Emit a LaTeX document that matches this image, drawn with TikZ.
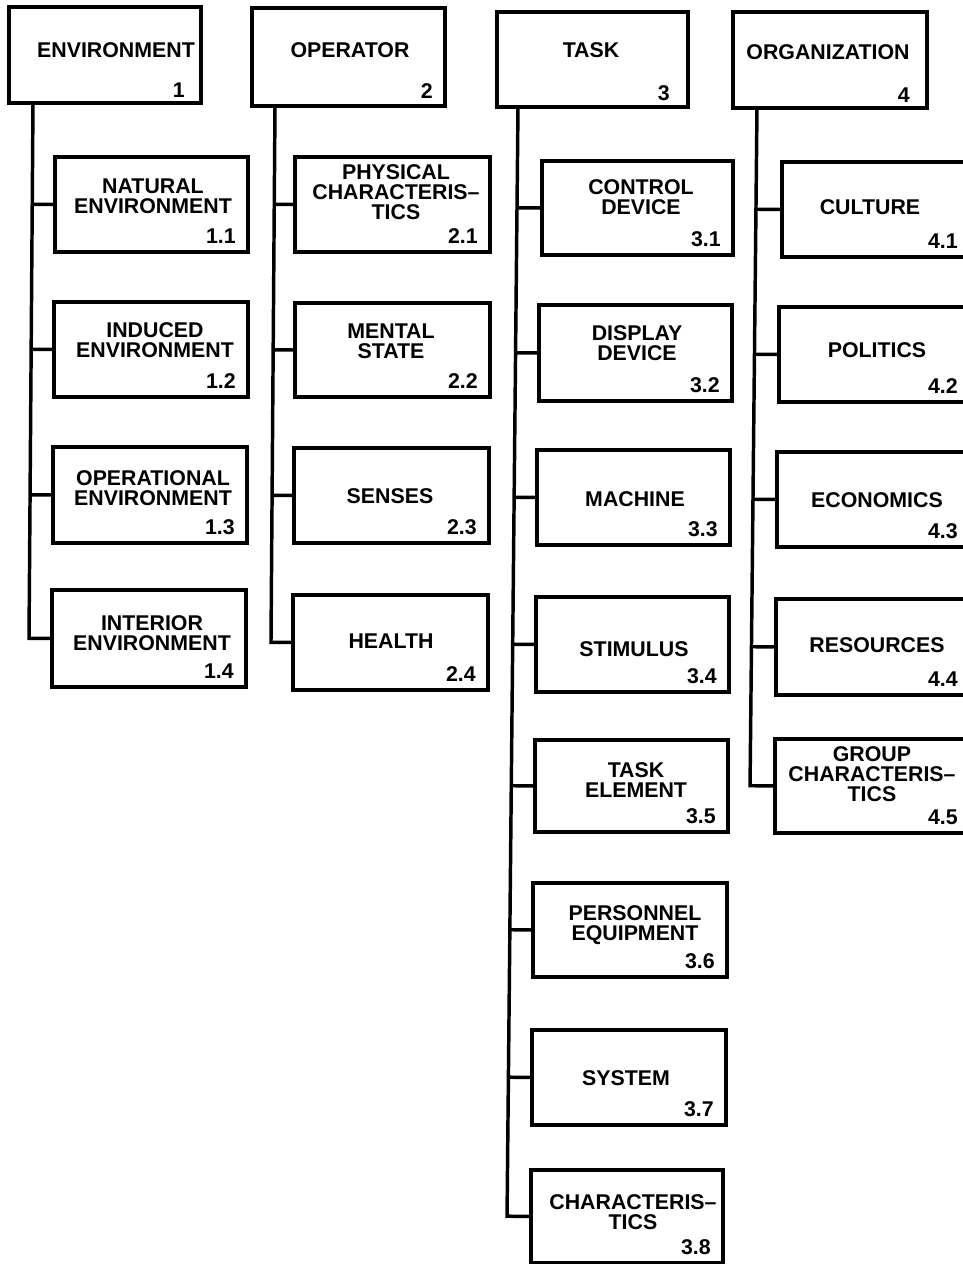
\documentclass[tikz,border=0pt]{standalone}
\usepackage{fontspec}
\setmainfont{Liberation Sans}
\usetikzlibrary{fit,calc}

\tikzset{
  frame/.style={draw, line width=2.6pt, inner sep=0pt, outer sep=0pt},
  caption/.style={font=\fontsize{16}{15}\selectfont\bfseries, align=center, inner sep=0pt},
  numtag/.style={font=\fontsize{16}{15}\selectfont\bfseries, anchor=base east, inner sep=0pt},
  link/.style={line width=2.6pt},
}

% #1 name, #2-#5 corners (x1,y1,x2,y2), #6-#7 caption centre, #8 caption, #9 number
\newcommand\unitbox[9]{%
  \node[frame, fit={(#2,#3) (#4,#5)}] (#1) {};
  \node[caption] (#1-t) at (#6,#7) {#8};
  \node[numtag] (#1-n) at ($(#4,#5)+(-12,-9)$) {#9};
}

\begin{document}
\begin{tikzpicture}[x=0.75pt, y=-0.75pt]
\useasboundingbox (0,0) rectangle (963,1264);
\clip (0,0) rectangle (963,1264);

% ---- top-level categories
\node[frame, fit={(9,7) (201,103)}] (env) {};
\node[caption] (env-t) at (116,50) {ENVIRONMENT};
\node[numtag] (env-n) at (185,97) {1};

\node[frame, fit={(252,8) (445,106)}] (opr) {};
\node[caption] (opr-t) at (350,50) {OPERATOR};
\node[numtag] (opr-n) at (433,98) {2};

\node[frame, fit={(497,12) (688,107)}] (tsk) {};
\node[caption] (tsk-t) at (591,50) {TASK};
\node[numtag] (tsk-n) at (670,100) {3};

\node[frame, fit={(733,12) (927,108)}] (org) {};
\node[caption] (org-t) at (828,52) {ORGANIZATION};
\node[numtag] (org-n) at (910,102) {4};

% ---- environment
\unitbox{e1}{55}{157}{248}{252}{153}{196}{NATURAL\\ENVIRONMENT}{1.1}
\unitbox{e2}{54}{302}{248}{397}{155}{340}{INDUCED\\ENVIRONMENT}{1.2}
\unitbox{e3}{53}{447}{247}{543}{153}{488}{OPERATIONAL\\ENVIRONMENT}{1.3}
\unitbox{e4}{52}{590}{246}{687}{152}{633}{INTERIOR\\ENVIRONMENT}{1.4}

% ---- operator
\unitbox{o1}{295}{157}{490}{252}{396}{192}{PHYSICAL\\CHARACTERIS–\\TICS}{2.1}
\unitbox{o2}{295}{303}{490}{397}{391}{341}{MENTAL\\STATE}{2.2}
\unitbox{o3}{294}{448}{489}{543}{390}{496}{SENSES}{2.3}
\unitbox{o4}{293}{595}{488}{690}{391}{641}{HEALTH}{2.4}

% ---- task
\unitbox{t1}{542}{161}{733}{255}{641}{197}{CONTROL\\DEVICE}{3.1}
\unitbox{t2}{539}{305}{732}{401}{637}{343}{DISPLAY\\DEVICE}{3.2}
\unitbox{t3}{537}{450}{730}{545}{635}{499}{MACHINE}{3.3}
\unitbox{t4}{536}{597}{729}{692}{634}{649}{STIMULUS}{3.4}
\unitbox{t5}{535}{740}{728}{832}{636}{780}{TASK\\ELEMENT}{3.5}
\unitbox{t6}{533}{883}{727}{977}{635}{925}{PERSONNEL\\EQUIPMENT}{3.6}
\unitbox{t7}{532}{1030}{726}{1125}{626}{1078}{SYSTEM}{3.7}
\unitbox{t8}{531}{1170}{723}{1263}{633}{1212}{CHARACTERIS–\\TICS}{3.8}

% ---- organization
\unitbox{g1}{782}{162}{970}{257}{870}{207}{CULTURE}{4.1}
\unitbox{g2}{779}{307}{970}{402}{877}{350}{POLITICS}{4.2}
\unitbox{g3}{777}{452}{970}{547}{877}{500}{ECONOMICS}{4.3}
\unitbox{g4}{776}{599}{970}{695}{877}{645}{RESOURCES}{4.4}
\unitbox{g5}{775}{739}{970}{833}{872}{774}{GROUP\\CHARACTERIS–\\TICS}{4.5}

% ---- trunk lines: top under each parent, foot giving the run of the line
\coordinate (env-top) at ($(env.south west)+(24,0)$);
\coordinate (env-foot) at (29,638);
\coordinate (opr-top) at ($(opr.south west)+(23,0)$);
\coordinate (opr-foot) at (271,640);
\coordinate (tsk-top) at ($(tsk.south west)+(21,0)$);
\coordinate (tsk-foot) at (507,1218);
\coordinate (org-top) at ($(org.south west)+(24,0)$);
\coordinate (org-foot) at (750,788);

\draw[link] (env-top) -- ($(env-top)!(e4.west)!(env-foot)$) -- (e4.west);
\foreach \c in {e1,e2,e3}
  \draw[link] ($(env-top)!(\c.west)!(env-foot)$) -- (\c.west);

\draw[link] (opr-top) -- ($(opr-top)!(o4.west)!(opr-foot)$) -- (o4.west);
\foreach \c in {o1,o2,o3}
  \draw[link] ($(opr-top)!(\c.west)!(opr-foot)$) -- (\c.west);

\draw[link] (tsk-top) -- ($(tsk-top)!(t8.west)!(tsk-foot)$) -- (t8.west);
\foreach \c in {t1,t2,t3,t4,t5,t6,t7}
  \draw[link] ($(tsk-top)!(\c.west)!(tsk-foot)$) -- (\c.west);

\draw[link] (org-top) -- ($(org-top)!(g5.west)!(org-foot)$) -- (g5.west);
\foreach \c in {g1,g2,g3,g4}
  \draw[link] ($(org-top)!(\c.west)!(org-foot)$) -- (\c.west);
\end{tikzpicture}
\end{document}
